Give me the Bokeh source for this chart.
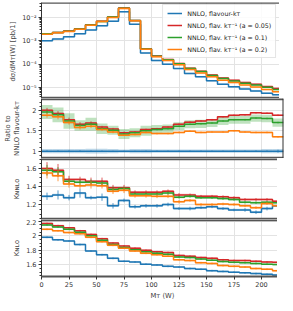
from bokeh.plotting import figure
from bokeh.layouts import column
from bokeh.models import (Range1d, FixedTicker, CustomJSTickFormatter,
                          Legend, LegendItem, Span)
from bokeh.embed import file_html
from bokeh.resources import INLINE

# ---------------- data ----------------
bin_edges = [0, 10, 20, 30, 40, 50, 60, 70, 80, 90, 100, 110, 120, 130, 140, 150,
             160, 170, 180, 190, 200, 210, 220]
x_ticks = [0, 25, 50, 75, 100, 125, 150, 175, 200]

series_labels = ["NNLO, flavour-kᴛ",
                 "NNLO, flav. kᴛ⁻¹ (a = 0.05)",
                 "NNLO, flav. kᴛ⁻¹ (a = 0.1)",
                 "NNLO, flav. kᴛ⁻¹ (a = 0.2)"]
series_colors = ["#1f77b4", "#d62728", "#2ca02c", "#ff7f0e"]

# dsigma/dMT [pb/1]
dsig_flavkt = [1.02e-3, 1.2e-3, 1.5e-3, 2.0e-3, 2.9e-3, 4.4e-3, 6.9e-3, 1.76e-2, 5.1e-3, 3.0e-4,
               1.45e-4, 1.0e-4, 6.5e-5, 4.0e-5, 2.9e-5, 1.96e-5, 1.4e-5, 1.09e-5, 8.7e-6, 7.2e-6,
               5.7e-6, 4.9e-6]
dsig_a005 = [2.04e-3, 2.30e-3, 2.66e-3, 3.32e-3, 4.90e-3, 7.0e-3, 1.06e-2, 2.55e-2, 7.5e-3, 4.6e-4,
             2.25e-4, 1.59e-4, 1.08e-4, 6.8e-5, 5.0e-5, 3.47e-5, 2.58e-5, 2.05e-5, 1.64e-5, 1.40e-5,
             1.10e-5, 9.2e-6]
dsig_a01 = [2.0e-3, 2.27e-3, 2.61e-3, 3.26e-3, 4.81e-3, 6.82e-3, 1.04e-2, 2.50e-2, 7.4e-3, 4.5e-4,
            2.22e-4, 1.55e-4, 1.05e-4, 6.6e-5, 4.84e-5, 3.31e-5, 2.44e-5, 1.93e-5, 1.54e-5, 1.30e-5,
            1.03e-5, 8.3e-6]
dsig_a02 = [1.92e-3, 2.21e-3, 2.55e-3, 3.16e-3, 4.67e-3, 6.73e-3, 1.01e-2, 2.45e-2, 7.2e-3, 4.4e-4,
            2.07e-4, 1.43e-4, 9.5e-5, 6.0e-5, 4.23e-5, 2.88e-5, 2.06e-5, 1.64e-5, 1.28e-5, 1.05e-5,
            8.3e-6, 6.6e-6]
dsig_band_frac = 0.07

# ratio to NNLO flavour-kT
ratio_flavkt = [1.0] * 22
ratio_a005 = [2.00, 1.92, 1.77, 1.66, 1.69, 1.59, 1.54, 1.45, 1.47, 1.53,
              1.55, 1.59, 1.66, 1.71, 1.74, 1.77, 1.84, 1.88, 1.89, 1.94, 1.93, 1.88]
ratio_a01 = [1.96, 1.89, 1.74, 1.63, 1.66, 1.55, 1.51, 1.42, 1.45, 1.50,
             1.53, 1.55, 1.61, 1.66, 1.67, 1.69, 1.74, 1.77, 1.77, 1.81, 1.80, 1.70]
ratio_a02 = [1.88, 1.84, 1.70, 1.58, 1.61, 1.53, 1.47, 1.39, 1.41, 1.46,
             1.43, 1.43, 1.46, 1.49, 1.46, 1.47, 1.47, 1.50, 1.47, 1.46, 1.46, 1.35]
ratio_err_flavkt = [0.02, 0.02, 0.02, 0.02, 0.015, 0.015, 0.01, 0.01, 0.01, 0.015,
                    0.015, 0.015, 0.015, 0.015, 0.015, 0.015, 0.015, 0.015, 0.015, 0.02, 0.02, 0.035]
ratio_err_a005 = [0.06, 0.06, 0.05, 0.05, 0.04, 0.03, 0.03, 0.03, 0.02, 0.02,
                  0.02, 0.02, 0.02, 0.02, 0.02, 0.02, 0.02, 0.02, 0.02, 0.02, 0.02, 0.02]
ratio_err_a01 = [0.05, 0.05, 0.05, 0.04, 0.04, 0.03, 0.03, 0.02, 0.02, 0.02,
                 0.02, 0.02, 0.02, 0.02, 0.02, 0.02, 0.02, 0.02, 0.02, 0.02, 0.02, 0.02]
ratio_err_a02 = [0.06, 0.06, 0.05, 0.05, 0.04, 0.03, 0.03, 0.02, 0.02, 0.02,
                 0.02, 0.02, 0.02, 0.02, 0.02, 0.02, 0.02, 0.02, 0.02, 0.02, 0.02, 0.02]
ratio_band_flavkt = [0.05, 0.05, 0.05, 0.05, 0.06, 0.06, 0.05, 0.04, 0.05, 0.05,
                     0.04, 0.04, 0.04, 0.04, 0.04, 0.04, 0.04, 0.04, 0.04, 0.04, 0.05, 0.05]
ratio_band_a01 = [0.17, 0.18, 0.19, 0.13, 0.16, 0.13, 0.11, 0.12, 0.11, 0.12,
                  0.11, 0.10, 0.10, 0.10, 0.10, 0.10, 0.10, 0.10, 0.10, 0.09, 0.09, 0.10]
ratio_band_other = 0.02

# K_NNLO
knnlo_flavkt = [1.295, 1.31, 1.28, 1.33, 1.28, 1.285, 1.19, 1.25, 1.18, 1.19,
                1.19, 1.205, 1.16, 1.16, 1.17, 1.18, 1.16, 1.145, 1.145, 1.12, 1.16, 1.19]
knnlo_a005 = [1.60, 1.58, 1.48, 1.48, 1.46, 1.46, 1.39, 1.39, 1.34, 1.34,
              1.34, 1.35, 1.31, 1.31, 1.295, 1.295, 1.29, 1.28, 1.26, 1.26, 1.26, 1.24]
knnlo_a01 = [1.58, 1.565, 1.46, 1.45, 1.45, 1.44, 1.37, 1.38, 1.32, 1.32,
             1.32, 1.33, 1.285, 1.295, 1.28, 1.28, 1.27, 1.26, 1.23, 1.225, 1.23, 1.225]
knnlo_a02 = [1.55, 1.52, 1.43, 1.41, 1.42, 1.41, 1.35, 1.36, 1.30, 1.30,
             1.295, 1.295, 1.235, 1.25, 1.205, 1.205, 1.21, 1.205, 1.19, 1.17, 1.215, 1.19]
knnlo_err_flavkt = [0.04, 0.05, 0.03, 0.05, 0.02, 0.04, 0.03, 0.02, 0.02, 0.02,
                    0.02, 0.02, 0.015, 0.02, 0.015, 0.015, 0.015, 0.015, 0.02, 0.02, 0.02, 0.10]
knnlo_err_a005 = [0.07, 0.07, 0.04, 0.03, 0.04, 0.04, 0.03, 0.03, 0.02, 0.02,
                  0.02, 0.02, 0.02, 0.015, 0.015, 0.015, 0.015, 0.015, 0.015, 0.015, 0.015, 0.015]
knnlo_err_a01 = [0.06, 0.05, 0.03, 0.03, 0.03, 0.03, 0.03, 0.02, 0.02, 0.02,
                 0.02, 0.02, 0.015, 0.015, 0.015, 0.015, 0.015, 0.015, 0.015, 0.015, 0.015, 0.015]
knnlo_err_a02 = [0.06, 0.06, 0.04, 0.03, 0.04, 0.03, 0.03, 0.03, 0.02, 0.02,
                 0.02, 0.02, 0.02, 0.015, 0.015, 0.015, 0.015, 0.015, 0.015, 0.015, 0.015, 0.015]
k_band = 0.012

# K_NLO
knlo_flavkt = [1.98, 1.945, 1.93, 1.88, 1.79, 1.74, 1.69, 1.65, 1.64, 1.61,
               1.60, 1.58, 1.57, 1.55, 1.54, 1.52, 1.51, 1.50, 1.49, 1.48, 1.47, 1.46]
knlo_a005 = [2.17, 2.14, 2.11, 2.07, 2.02, 1.96, 1.90, 1.86, 1.83, 1.80,
             1.78, 1.77, 1.73, 1.72, 1.70, 1.69, 1.67, 1.66, 1.66, 1.65, 1.64, 1.635]
knlo_a01 = [2.15, 2.12, 2.09, 2.05, 2.00, 1.94, 1.88, 1.84, 1.81, 1.78,
            1.76, 1.745, 1.71, 1.70, 1.68, 1.665, 1.645, 1.635, 1.63, 1.62, 1.61, 1.605]
knlo_a02 = [2.09, 2.07, 2.045, 2.03, 1.98, 1.92, 1.87, 1.83, 1.79, 1.76,
            1.74, 1.72, 1.67, 1.66, 1.63, 1.62, 1.59, 1.58, 1.57, 1.55, 1.54, 1.52]
knlo_err = 0.012

# ---------------- styling helpers ----------------
FONT = "DejaVu Sans"
FRAME_W = 242
BORDER_L = 33
SEP_COLOR = "#555555"
TICK_FS = "6.5px"
LABEL_FS = "6.8px"

centers = [(a + b) / 2 for a, b in zip(bin_edges[:-1], bin_edges[1:])]


def step_xy(vals):
    return bin_edges, list(vals) + [vals[-1]]


def make_fig(frame_h, y_range, y_type="linear", border_top=0, border_bottom=0,
             top_w=3.5, last=False):
    p = figure(frame_width=FRAME_W, frame_height=frame_h, x_range=Range1d(0, 220),
               y_range=y_range, y_axis_type=y_type, output_backend="svg",
               toolbar_location=None, min_border_left=BORDER_L, min_border_right=2,
               min_border_top=border_top, min_border_bottom=border_bottom)
    p.outline_line_color = None
    p.background_fill_color = "white"
    p.border_fill_color = "white"
    p.xgrid.ticker = FixedTicker(ticks=x_ticks)
    p.xgrid.grid_line_color = "#e3e3e3"
    p.ygrid.grid_line_color = "#e3e3e3"
    xa = p.xaxis[0]
    if last:
        xa.ticker = FixedTicker(ticks=x_ticks)
        xa.major_tick_out = 3
        xa.major_tick_in = 0
        xa.minor_tick_out = 0
        xa.major_label_standoff = 2
        xa.major_label_text_font = FONT
        xa.major_label_text_font_size = TICK_FS
        xa.major_label_text_color = "#333333"
        xa.axis_label = "Mᴛ (W)"
        xa.axis_label_text_font = FONT
        xa.axis_label_text_font_size = LABEL_FS
        xa.axis_label_text_font_style = "normal"
        xa.axis_label_standoff = 2
        xa.axis_line_width = 2
        xa.axis_line_color = SEP_COLOR
        xa.major_tick_line_color = "#333333"
    else:
        xa.visible = False
    # thick top / bottom frame edges, thin right edge
    p.add_layout(Span(location=y_range.end, dimension="width", line_color=SEP_COLOR,
                      line_width=top_w))
    if not last:
        p.add_layout(Span(location=y_range.start, dimension="width", line_color=SEP_COLOR,
                          line_width=3.5))
    p.add_layout(Span(location=220, dimension="height", line_color="#333333", line_width=2))
    ya = p.yaxis[0]
    ya.axis_line_color = "#333333"
    ya.major_tick_out = 3
    ya.major_tick_in = 0
    ya.minor_tick_out = 2
    ya.minor_tick_in = 0
    ya.major_tick_line_color = "#333333"
    ya.minor_tick_line_color = "#333333"
    ya.major_label_standoff = 2
    ya.major_label_text_font = FONT
    ya.major_label_text_font_size = TICK_FS
    ya.major_label_text_color = "#333333"
    ya.axis_label_text_font = FONT
    ya.axis_label_text_font_size = LABEL_FS
    ya.axis_label_text_font_style = "normal"
    ya.axis_label_standoff = 2
    return p


def draw_panel(p, vals_list, err_list=None, band_list=None, band_alpha=0.3):
    rends = []
    for i, vals in enumerate(vals_list):
        col = series_colors[i]
        if band_list is not None and band_list[i] is not None:
            lo, hi = band_list[i]
            p.quad(left=bin_edges[:-1], right=bin_edges[1:], bottom=lo, top=hi,
                   fill_color=col, fill_alpha=band_alpha, line_color=None)
    for i, vals in enumerate(vals_list):
        col = series_colors[i]
        xs, ys = step_xy(vals)
        r = p.step(xs, ys, mode="after", line_color=col, line_width=1.5)
        rends.append(r)
        if err_list is not None and err_list[i] is not None:
            e = err_list[i]
            p.segment(x0=centers, x1=centers,
                      y0=[v - d for v, d in zip(vals, e)],
                      y1=[v + d for v, d in zip(vals, e)],
                      line_color=col, line_width=1.0, line_alpha=0.75)
    return rends


# ---------------- panel 1: distribution ----------------
p1 = make_fig(96, Range1d(3.4e-6, 0.044), y_type="log", border_top=2, top_w=2.5)
p1.yaxis[0].ticker = FixedTicker(
    ticks=[1e-5, 1e-4, 1e-3, 1e-2],
    minor_ticks=[m * 10.0 ** k for k in range(-6, -1) for m in range(2, 10)])
p1.yaxis[0].formatter = CustomJSTickFormatter(code="""
const sup = {'-':'\u207b','0':'\u2070','1':'\u00b9','2':'\u00b2','3':'\u00b3','4':'\u2074',
             '5':'\u2075','6':'\u2076','7':'\u2077','8':'\u2078','9':'\u2079'};
const e = Math.round(Math.log10(tick));
return '10' + String(e).split('').map(c => sup[c]).join('');
""")
p1.ygrid.ticker = FixedTicker(ticks=[1e-5, 1e-4, 1e-3, 1e-2])
p1.yaxis[0].axis_label = "dσ/dMᴛ(W)  [pb/1]"
top_vals = [dsig_flavkt, dsig_a005, dsig_a01, dsig_a02]
top_bands = [([v * (1 - dsig_band_frac) for v in s], [v * (1 + dsig_band_frac) for v in s])
             for s in top_vals]
r1 = draw_panel(p1, top_vals, None, top_bands, band_alpha=0.3)
legend = Legend(items=[LegendItem(label=series_labels[i], renderers=[r1[i]]) for i in range(4)],
                location="top_right", label_text_font=FONT, label_text_font_size="6.3px",
                label_text_color="#222222",
                glyph_width=15, glyph_height=8, label_height=8, label_standoff=5,
                spacing=4, padding=4, margin=2, border_line_color="#cccccc",
                border_line_width=1, background_fill_alpha=0.85)
p1.add_layout(legend)

# ---------------- panel 2: ratio ----------------
p2 = make_fig(60, Range1d(0.82, 2.29))
p2.yaxis[0].ticker = FixedTicker(ticks=[1.0, 1.5, 2.0],
                                 minor_ticks=[0.9 + 0.1 * k for k in range(14)])
p2.ygrid.ticker = FixedTicker(ticks=[1.0, 1.5, 2.0])
p2.yaxis[0].axis_label = "Ratio to\nNNLO flavour-kᴛ"
ratio_vals = [ratio_flavkt, ratio_a005, ratio_a01, ratio_a02]
ratio_bands = [
    ([v - d for v, d in zip(ratio_flavkt, ratio_band_flavkt)],
     [v + d for v, d in zip(ratio_flavkt, ratio_band_flavkt)]),
    ([v - ratio_band_other for v in ratio_a005], [v + ratio_band_other for v in ratio_a005]),
    ([v - d for v, d in zip(ratio_a01, ratio_band_a01)],
     [v + d for v, d in zip(ratio_a01, ratio_band_a01)]),
    ([v - ratio_band_other for v in ratio_a02], [v + ratio_band_other for v in ratio_a02]),
]
draw_panel(p2, ratio_vals, [ratio_err_flavkt, ratio_err_a005, ratio_err_a01, ratio_err_a02],
           ratio_bands, band_alpha=0.3)

# ---------------- panel 3: K_NNLO ----------------
p3 = make_fig(61, Range1d(1.04, 1.71))
p3.yaxis[0].ticker = FixedTicker(ticks=[1.2, 1.4, 1.6],
                                 minor_ticks=[1.05 + 0.05 * k for k in range(14)])
p3.ygrid.ticker = FixedTicker(ticks=[1.2, 1.4, 1.6])
p3.yaxis[0].axis_label = "Kɴɴʟᴏ"
knnlo_vals = [knnlo_flavkt, knnlo_a005, knnlo_a01, knnlo_a02]
knnlo_bands = [([v - k_band for v in s], [v + k_band for v in s]) for s in knnlo_vals]
draw_panel(p3, knnlo_vals, [knnlo_err_flavkt, knnlo_err_a005, knnlo_err_a01, knnlo_err_a02],
           knnlo_bands, band_alpha=0.3)

# ---------------- panel 4: K_NLO ----------------
p4 = make_fig(57, Range1d(1.44, 2.225), border_bottom=22, last=True)
p4.yaxis[0].ticker = FixedTicker(ticks=[1.6, 1.8, 2.0, 2.2],
                                 minor_ticks=[1.45 + 0.05 * k for k in range(16)])
p4.ygrid.ticker = FixedTicker(ticks=[1.6, 1.8, 2.0, 2.2])
p4.yaxis[0].axis_label = "Kɴʟᴏ"
knlo_vals = [knlo_flavkt, knlo_a005, knlo_a01, knlo_a02]
knlo_bands = [([v - k_band for v in s], [v + k_band for v in s]) for s in knlo_vals]
knlo_errs = [[knlo_err] * 22 for _ in range(4)]
draw_panel(p4, knlo_vals, knlo_errs, knlo_bands, band_alpha=0.3)

layout = column(p1, p2, p3, p4, spacing=0)
open("out.html", "w").write(file_html(layout, INLINE, "plot"))
